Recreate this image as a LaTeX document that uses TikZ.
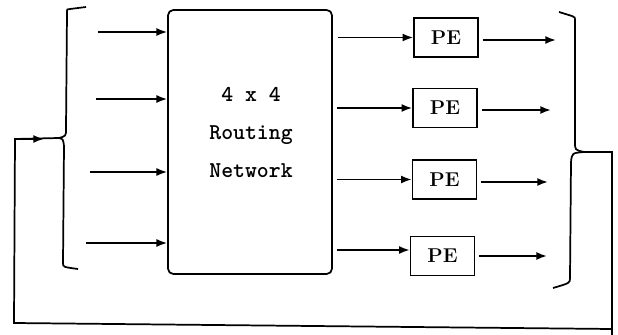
\documentclass[tikz,border=0pt]{standalone}
\usepackage{tikz}
\usetikzlibrary{arrows.meta}

\begin{document}
\begin{tikzpicture}[x=0.75pt,y=0.75pt,yscale=-1,xscale=1,
  line width=1.3pt,
  net/.style={draw,rounded corners=4pt,minimum width=123pt,minimum height=198pt,inner sep=0pt},
  pe/.style={draw,line width=1.2pt,minimum width=48pt,minimum height=29pt,inner sep=0pt,font=\fontsize{15}{17}\selectfont\bfseries},
  lbl/.style={inner sep=0.75pt,align=center,font=\fontsize{17}{28.5}\selectfont\ttfamily\bfseries},
  arr/.style={-{Latex[length=8pt,width=6pt]}}]
\useasboundingbox (0,0) rectangle (618,335);

%Shape: Routing network
\node [net] (net) at (250,142) {};
% Text Node
\node [lbl] (netlbl) at (251,133) {4 x 4\\Routing\\Network};

%Shape: PE boxes
\node [pe] (pe1) at (446,37.5) {PE};
\node [pe] (pe2) at (445,108) {PE};
\node [pe] (pe3) at (444.5,179.5) {PE};
\node [pe] (pe4) at (442.5,256) {PE};

%Input arrows
\coordinate (in1) at (98,32);
\coordinate (in2) at (96,99);
\coordinate (in3) at (90,172);
\coordinate (in4) at (86,243);
\draw [arr] (in1) -- (in1 -| net.west);
\draw [arr] (in2) -- (in2 -| net.west);
\draw [arr] (in3) -- (in3 -| net.west);
\draw [arr] (in4) -- (in4 -| net.west);

%Network to PE
\draw [arr] ([xshift=4pt]net.east |- pe1.west) -- (pe1.west);
\draw [arr] ([xshift=3pt]net.east |- pe2.west) -- (pe2.west);
\draw [arr] ([xshift=3pt]net.east |- pe3.west) -- (pe3.west);
\draw [arr] ([xshift=3pt]net.east |- 0,250) -- (pe4.west |- 0,250);

%PE outputs
\coordinate (out1) at (556,40);
\coordinate (out2) at (551,110);
\coordinate (out3) at (548,182);
\coordinate (out4) at (547,256);
\draw [arr] ([xshift=3pt]pe1.east |- out1) -- (out1);
\draw [arr] ([xshift=3pt]pe2.east |- out2) -- (out2);
\draw [arr] ([xshift=3pt]pe3.east |- out3) -- (out3);
\draw [arr] ([xshift=3pt]pe4.east |- out4) -- (out4);

%Brackets
\coordinate (lcusp) at (59,138);
\coordinate (rcusp) at (584,152);
\draw (86,7) -- (70,9) .. controls (67,9) .. (67,13) -- (66,129) .. controls (66,136) .. (lcusp);
\draw (lcusp) .. controls (63,139) .. (64,146) -- (63,263) .. controls (63,267) .. (78,269);
\draw (559,12) -- (572,16) .. controls (575,17) .. (575,22) -- (575,142) .. controls (575,150) .. (rcusp);
\draw (rcusp) .. controls (572,153) .. (571,162) -- (570,278) .. controls (570,283) .. (553,288);

%Feedback loop
\draw (rcusp) -- (612,152) -- (612,335);
\draw (612,329) -- (14,323) -- (15,139) -- (lcusp);
\draw [arr] (15,139) -- (44,139);

\end{tikzpicture}
\end{document}
